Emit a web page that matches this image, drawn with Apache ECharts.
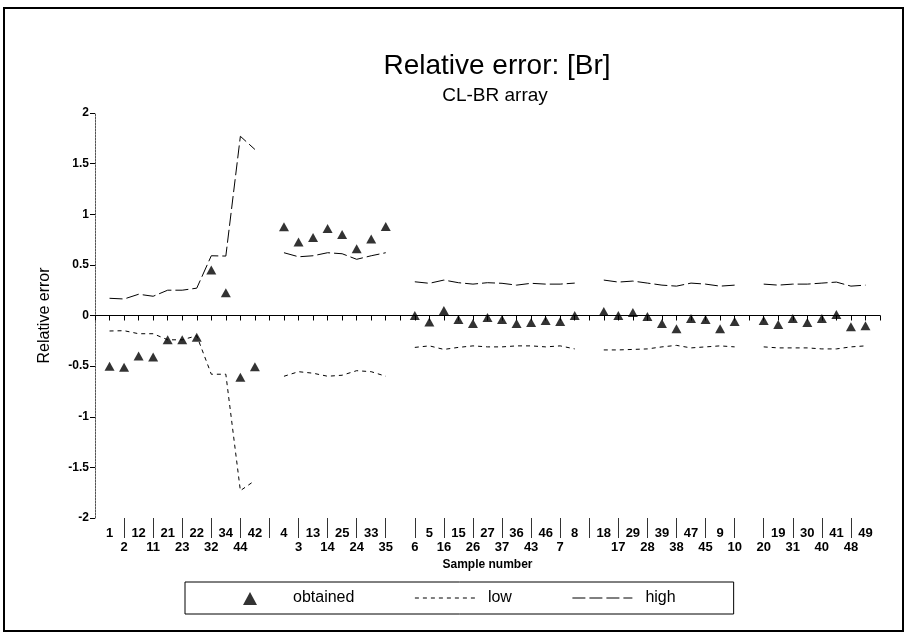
<!DOCTYPE html>
<html>
<head>
<meta charset="utf-8">
<script src="https://cdn.jsdelivr.net/npm/echarts@6/dist/echarts.min.js"></script>
<style>
html,body{margin:0;padding:0;background:#fff;}
#c{width:907px;height:638px;}
</style>
</head>
<body>
<div id="c"></div>
<script>
// Sample order along the x axis ('' = empty slot between groups)
const categories = ['', '1','2','12','11','21','23','22','32','34','44','42', '',
  '4','3','13','14','25','24','33','35', '',
  '6','5','16','15','26','27','37','36','43','46','7','8', '',
  '18','17','29','28','39','38','47','45','9','10', '',
  '20','19','31','30','40','41','48','49', ''];

const obtained = [null, -0.50,-0.51,-0.40,-0.41,-0.24,-0.24,-0.215,0.45,0.225,-0.61,-0.505, null,
  0.876,0.725,0.77,0.86,0.80,0.66,0.755,0.88, null,
  0.0,-0.065,0.05,-0.04,-0.08,-0.02,-0.04,-0.08,-0.07,-0.05,-0.06,0.0, null,
  0.04,0.0,0.03,-0.01,-0.08,-0.13,-0.03,-0.04,-0.13,-0.06, null,
  -0.05,-0.09,-0.03,-0.07,-0.03,0.01,-0.11,-0.10, null];

const low = [null, -0.153,-0.15,-0.18,-0.18,-0.24,-0.24,-0.20,-0.58,-0.58,-1.73,-1.63, null,
  -0.60,-0.555,-0.57,-0.60,-0.59,-0.545,-0.555,-0.60, null,
  -0.315,-0.30,-0.335,-0.315,-0.30,-0.31,-0.31,-0.30,-0.30,-0.31,-0.30,-0.33, null,
  -0.34,-0.34,-0.335,-0.33,-0.31,-0.295,-0.32,-0.31,-0.30,-0.31, null,
  -0.31,-0.32,-0.32,-0.32,-0.33,-0.33,-0.31,-0.30, null];

const high = [null, 0.17,0.163,0.21,0.19,0.25,0.25,0.27,0.59,0.587,1.77,1.64, null,
  0.62,0.58,0.59,0.62,0.61,0.555,0.59,0.62, null,
  0.333,0.318,0.35,0.324,0.31,0.324,0.318,0.30,0.318,0.31,0.31,0.32, null,
  0.35,0.33,0.34,0.32,0.30,0.29,0.32,0.31,0.29,0.30, null,
  0.31,0.30,0.31,0.31,0.32,0.33,0.29,0.30, null];

const yTicks = [-2, -1.5, -1, -0.5, 0, 0.5, 1, 1.5, 2];

const FONT = '"Liberation Sans", Arial, Helvetica, sans-serif';
const chart = echarts.init(document.getElementById('c'));

const option = {
  backgroundColor: '#fff',
  animation: false,
  textStyle: { fontFamily: FONT, color: '#000' },
  title: [
    { text: 'Relative error: [Br]', left: 492, top: 47, textAlign: 'center',
      textStyle: { fontFamily: FONT, fontSize: 28, fontWeight: 'normal', color: '#000' } },
    { text: 'CL-BR array', left: 490, top: 81, textAlign: 'center',
      textStyle: { fontFamily: FONT, fontSize: 19, fontWeight: 'normal', color: '#000' } }
  ],
  graphic: [
    { type: 'rect', shape: { x: 4, y: 8, width: 899, height: 623 },
      style: { fill: 'none', stroke: '#000', lineWidth: 2 }, silent: true }
  ],
  grid: { left: 95, right: 27, top: 113, bottom: 120, containLabel: false },
  legend: {
    data: [
      { name: 'obtained', icon: 'path://M0,0 M60,14 M23,14 L30,1 L37,14 Z' },
      { name: 'low', itemStyle: { opacity: 0 } },
      { name: 'high', itemStyle: { opacity: 0 } }
    ],
    left: 185, top: 582,
    itemWidth: 60, itemHeight: 14, itemGap: 60,
    padding: [8, 58, 8, 35],
    borderColor: '#000', borderWidth: 1, borderRadius: 0,
    lineStyle: { width: 1 },
    textStyle: { fontFamily: FONT, fontSize: 16, color: '#000', padding: [0, 0, 0, 8] }
  },
  xAxis: [
    {
      type: 'category', data: categories, boundaryGap: false,
      name: 'Sample number', nameLocation: 'middle', nameGap: 40,
      nameTextStyle: { fontFamily: FONT, fontSize: 12, fontWeight: 'bold', color: '#000' },
      axisLine: { lineStyle: { color: '#000', width: 1 } },
      axisTick: { show: true, interval: 0, length: 5, lineStyle: { color: '#000' } },
      axisLabel: {
        interval: 0, fontFamily: FONT, fontSize: 13, fontWeight: 'bold', color: '#000',
        lineHeight: 14, margin: 8,
        formatter: function (v, i) { return (i % 2 === 1) ? v : '\n' + v; }
      },
      splitLine: { show: false }
    },
    {
      type: 'category', data: categories, boundaryGap: false, position: 'bottom',
      axisLine: { show: false },
      axisTick: { show: true, length: 20, lineStyle: { color: '#333' },
        interval: function (i) { return i % 2 === 0 && i > 0 && i < categories.length - 1; } },
      axisLabel: { show: false },
      splitLine: { show: false }
    }
  ],
  yAxis: {
    type: 'value', min: -2, max: 2, interval: 0.5,
    name: 'Relative error', nameLocation: 'middle', nameGap: 42, nameRotate: 90,
    nameTextStyle: { fontFamily: FONT, fontSize: 16, color: '#000' },
    axisLine: { show: true, lineStyle: { color: '#555', width: 1, type: [2, 1] } },
    axisTick: { show: true, length: 5, lineStyle: { color: '#000' } },
    axisLabel: { fontFamily: FONT, fontSize: 12, fontWeight: 'bold', color: '#000', margin: 6,
      formatter: function (v) { return yTicks.indexOf(v) >= 0 ? String(v) : ''; } },
    splitLine: { show: false }
  },
  series: [
    {
      name: 'obtained', type: 'scatter', data: obtained,
      symbol: 'triangle', symbolSize: [10, 9],
      itemStyle: { color: '#000' }, z: 5
    },
    {
      name: 'low', type: 'line', data: low, connectNulls: false,
      symbol: 'circle', showSymbol: false,
      lineStyle: { color: '#000', width: 1, type: [4, 4] },
      itemStyle: { color: '#000' }
    },
    {
      name: 'high', type: 'line', data: high, connectNulls: false,
      symbol: 'circle', showSymbol: false,
      lineStyle: { color: '#000', width: 1, type: [13, 4] },
      itemStyle: { color: '#000' },
      markLine: {
        silent: true, symbol: 'none', label: { show: false },
        lineStyle: { color: '#000', width: 1.2, type: [16, 4] },
        data: [{ yAxis: 0 }]
      }
    }
  ]
};
chart.setOption(option);
</script>
</body>
</html>
